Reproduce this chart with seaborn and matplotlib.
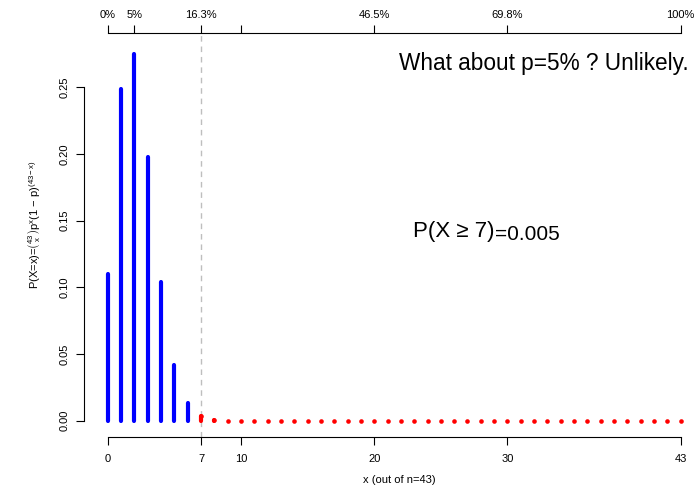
import numpy as np
import pandas as pd
import seaborn as sns
import matplotlib
matplotlib.use("Agg")
import matplotlib.pyplot as plt

# binomial probabilities, n=43, p=0.05
n_trials = 43
x_vals = list(range(0, 44))
probs = [0.110, 0.249, 0.275, 0.198, 0.104, 0.042, 0.0136, 0.0034,
         0.0008, 0.0001] + [0.0] * 34
cutoff = 7
top_ticks = [0, 2, 7, 10, 20, 30, 43]
top_labels = ["0%", "5%", "16.3%", "", "46.5%", "69.8%", "100%"]
bottom_ticks = [0, 7, 10, 20, 30, 43]
y_ticks = [0.00, 0.05, 0.10, 0.15, 0.20, 0.25]

df = pd.DataFrame({"x": x_vals, "p": probs})
df["tail"] = df["x"] >= cutoff

sns.set_theme(style="ticks")
plt.rcParams["font.family"] = ["Liberation Sans", "DejaVu Sans"]
plt.rcParams["mathtext.fontset"] = "custom"
plt.rcParams["mathtext.rm"] = "Liberation Sans"
plt.rcParams["mathtext.it"] = "Liberation Sans"
plt.rcParams["mathtext.sf"] = "Liberation Sans"

W, H = 696, 490
fig = plt.figure(figsize=(W / 100, H / 100), dpi=100)
ax = fig.add_axes([84.3 / W, 1 - 437 / H, (W - 84.3) / W, (437 - 33) / H])

px_per_x = 573 / 43
ax.set_xlim((84.3 - 107.7) / px_per_x, (W - 107.7) / px_per_x)
ax.set_ylim((420.7 - 437) / 1334, (420.7 - 33) / 1334)

ax.axvline(cutoff, color="#BEBEBE", ls=(0, (4, 3.5)), lw=1, zorder=1)

head = df[~df["tail"]]
tail = df[df["tail"]]
ax.vlines(head["x"], 0, head["p"], color="blue", lw=3, capstyle="round", zorder=3)
ax.vlines(tail["x"], 0, tail["p"], color="red", lw=3, capstyle="round", zorder=3)
sns.scatterplot(data=tail, x="x", y="p", color="red", s=11, linewidth=0,
                ax=ax, zorder=3, legend=False)

# axes in R style: lines only between first and last tick
for side in ["right", "top"]:
    ax.spines[side].set_visible(False)
ax.spines["left"].set_bounds(0, 0.25)
ax.spines["bottom"].set_bounds(0, 43)
for side in ["left", "bottom"]:
    ax.spines[side].set_color("black")
    ax.spines[side].set_linewidth(0.8)

ax.set_yticks(y_ticks)
ax.set_yticklabels([f"{v:.2f}" for v in y_ticks], rotation=90, va="center")
ax.set_xticks(bottom_ticks)
ax.set_xticklabels([str(t) for t in bottom_ticks])
ax.tick_params(axis="both", direction="out", length=5.5, width=0.8, color="black",
               labelsize=8, labelcolor="black")
ax.tick_params(axis="x", pad=7)
ax.tick_params(axis="y", pad=5)
ax.set_xlabel("")
ax.set_ylabel("")

top = ax.twiny()
top.set_xlim(ax.get_xlim())
for side in ["left", "right", "bottom"]:
    top.spines[side].set_visible(False)
top.spines["top"].set_bounds(0, 43)
top.spines["top"].set_color("black")
top.spines["top"].set_linewidth(0.8)
top.set_xticks(top_ticks)
top.set_xticklabels(top_labels)
top.tick_params(axis="x", direction="out", length=5.5, width=0.8, color="black",
                labelsize=8, labelcolor="black", pad=4)

fig.text(689 / W, 1 - 70 / H, "What about p=5% ? Unlikely.", ha="right",
         va="baseline", fontsize=16.3, color="black")
t1 = fig.text(413 / W, 1 - 237 / H, "P(X \u2265 7)", ha="left", va="baseline",
              fontsize=16, color="black")
ax.annotate("=0.005", xy=(1, 0), xycoords=t1, xytext=(0.5, -1.5),
            textcoords="offset points", ha="left", va="bottom",
            fontsize=15, color="black")

fig.text(35 / W, 1 - 225 / H,
         r"P(X=x)=$\binom{43}{x}$p$^{x}$(1 $-$ p)$^{(43 - x)}$",
         rotation=90, ha="center", va="center", fontsize=8, color="black")
fig.text(399 / W, 1 - 480 / H, f"x (out of n={n_trials})", ha="center",
         va="center", fontsize=8, color="black")

fig.savefig("out.png", dpi=100)
